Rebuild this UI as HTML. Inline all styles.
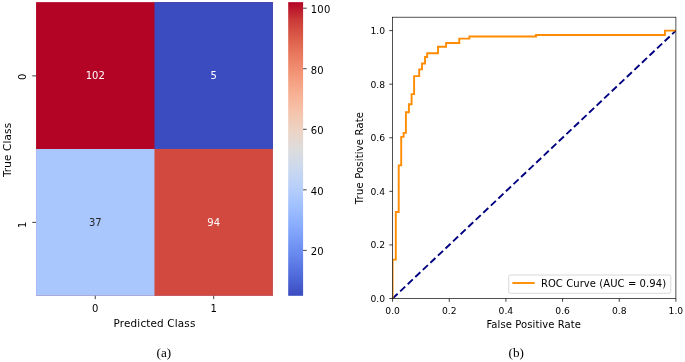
<!DOCTYPE html>
<html lang="en"><head><meta charset="utf-8"><title>Confusion matrix and ROC curve</title>
<style>html,body{margin:0;padding:0;background:#fff}svg{display:block;will-change:transform}text{font-family:"DejaVu Sans","Liberation Sans",sans-serif;font-size:10px;fill:#000}.cap{font-family:"Liberation Serif","DejaVu Serif",serif;font-size:13.2px}.t{font-size:9.2px}.l{font-size:10.4px}.w{fill:#fff}.d{fill:#262626}</style></head><body>
<svg width="685" height="362" viewBox="0 0 685 362">
<defs><linearGradient id="cw" x1="0" y1="0" x2="0" y2="1"><stop offset="0.0%" stop-color="#b40426"/><stop offset="6.2%" stop-color="#ca3b37"/><stop offset="12.5%" stop-color="#dd5f4b"/><stop offset="18.8%" stop-color="#eb7d62"/><stop offset="25.0%" stop-color="#f4987a"/><stop offset="31.2%" stop-color="#f7b093"/><stop offset="37.5%" stop-color="#f5c4ac"/><stop offset="43.8%" stop-color="#ecd3c5"/><stop offset="50.0%" stop-color="#dddcdc"/><stop offset="56.2%" stop-color="#ccd9ed"/><stop offset="62.5%" stop-color="#b9d0f9"/><stop offset="68.8%" stop-color="#a3c2fe"/><stop offset="75.0%" stop-color="#8db0fe"/><stop offset="81.2%" stop-color="#779af7"/><stop offset="87.5%" stop-color="#6282ea"/><stop offset="93.8%" stop-color="#4e68d8"/><stop offset="100.0%" stop-color="#3b4cc0"/></linearGradient><clipPath id="axclip"><rect x="392.60" y="17.20" width="283.30" height="281.30"/></clipPath></defs>
<rect width="685" height="362" fill="#fff"/>
<g shape-rendering="auto">
<rect x="36.05" y="2.15" width="236.85" height="293.65" fill="#b40426"/>
<rect x="154.47" y="2.15" width="118.42" height="293.65" fill="#3b4cc0"/>
<rect x="36.05" y="148.97" width="236.85" height="146.83" fill="#a9c6fd"/>
<rect x="154.47" y="148.97" width="118.42" height="146.83" fill="#d1493f"/>
<rect x="288.20" y="2.15" width="14.90" height="293.65" fill="url(#cw)"/>
</g>
<text class="w" x="95.3" y="79.0" text-anchor="middle">102</text>
<text class="w" x="213.7" y="79.0" text-anchor="middle">5</text>
<text class="d" x="95.3" y="225.8" text-anchor="middle">37</text>
<text class="w" x="213.7" y="225.8" text-anchor="middle">94</text>
<g stroke="#000" stroke-width="0.75">
<line x1="95.26" y1="295.80" x2="95.26" y2="299.10"/>
<line x1="213.69" y1="295.80" x2="213.69" y2="299.10"/>
<line x1="32.25" y1="75.86" x2="36.05" y2="75.86"/>
<line x1="32.25" y1="222.39" x2="36.05" y2="222.39"/>
<line x1="303.10" y1="8.20" x2="306.70" y2="8.20"/>
<line x1="303.10" y1="68.75" x2="306.70" y2="68.75"/>
<line x1="303.10" y1="129.30" x2="306.70" y2="129.30"/>
<line x1="303.10" y1="189.84" x2="306.70" y2="189.84"/>
<line x1="303.10" y1="250.39" x2="306.70" y2="250.39"/>
</g>
<text x="310.7" y="13.0" letter-spacing="0.25">100</text>
<text x="310.7" y="73.6" letter-spacing="0.25">80</text>
<text x="310.7" y="134.1" letter-spacing="0.25">60</text>
<text x="310.7" y="194.6" letter-spacing="0.25">40</text>
<text x="310.7" y="255.2" letter-spacing="0.25">20</text>
<text x="95.3" y="312" text-anchor="middle">0</text>
<text x="213.7" y="312" text-anchor="middle">1</text>
<text transform="translate(25.7,76.8) rotate(-90)" text-anchor="middle">0</text>
<text transform="translate(26.4,224.7) rotate(-90)" text-anchor="middle">1</text>
<text class="l" x="113.6" y="327.25" textLength="81.7" lengthAdjust="spacing">Predicted Class</text>
<text class="l" transform="translate(11.1,177.1) rotate(-90)" textLength="54.2" lengthAdjust="spacing">True Class</text>
<text class="cap" x="163.9" y="356.7" text-anchor="middle">(a)</text>
<g clip-path="url(#axclip)">
<line x1="392.6" y1="298.5" x2="675.9" y2="30.6" stroke="#000080" stroke-width="1.9" stroke-dasharray="6.96 3.44" fill="none"/>
<polyline points="392.6,298.5 392.6,259.6 395.8,259.6 395.8,212.0 398.7,212.0 398.7,165.4 401.2,165.4 401.2,136.9 403.6,136.9 403.6,132.9 405.9,132.9 405.9,112.2 408.9,112.2 408.9,104.2 411.6,104.2 411.6,94.1 414.1,94.1 414.1,76.1 419.2,76.1 419.2,69.4 422.0,69.4 422.0,63.5 425.0,63.5 425.0,57.0 427.2,57.0 427.2,53.3 438.0,53.3 438.0,46.8 446.1,46.8 446.1,43.0 459.3,43.0 459.3,38.6 469.4,38.6 469.4,36.5 536.0,36.5 536.0,35.0 664.9,35.0 664.9,30.6 675.9,30.6" fill="none" stroke="#ff8c00" stroke-width="1.9" stroke-linejoin="miter" stroke-linecap="square"/>
</g>
<rect x="508.7" y="275" width="162.1" height="18.3" rx="1.8" ry="1.8" fill="#fff" fill-opacity="0.8" stroke="#ccc" stroke-width="0.75"/>
<line x1="512.4" y1="283" x2="534.7" y2="283" stroke="#ff8c00" stroke-width="1.9"/>
<text x="540.9" y="287.1" textLength="125.2" lengthAdjust="spacing">ROC Curve (AUC = 0.94)</text>
<rect x="392.60" y="17.20" width="283.30" height="281.30" fill="none" stroke="#000" stroke-width="0.68"/>
<g stroke="#000" stroke-width="0.75">
<line x1="392.60" y1="298.50" x2="392.60" y2="301.80"/>
<line x1="389.30" y1="298.50" x2="392.60" y2="298.50"/>
<line x1="449.26" y1="298.50" x2="449.26" y2="301.80"/>
<line x1="389.30" y1="244.92" x2="392.60" y2="244.92"/>
<line x1="505.92" y1="298.50" x2="505.92" y2="301.80"/>
<line x1="389.30" y1="191.34" x2="392.60" y2="191.34"/>
<line x1="562.58" y1="298.50" x2="562.58" y2="301.80"/>
<line x1="389.30" y1="137.76" x2="392.60" y2="137.76"/>
<line x1="619.24" y1="298.50" x2="619.24" y2="301.80"/>
<line x1="389.30" y1="84.18" x2="392.60" y2="84.18"/>
<line x1="675.90" y1="298.50" x2="675.90" y2="301.80"/>
<line x1="389.30" y1="30.60" x2="392.60" y2="30.60"/>
</g>
<text class="t" x="392.6" y="313.55" text-anchor="middle">0.0</text>
<text class="t" x="385.0" y="301.9" text-anchor="end">0.0</text>
<text class="t" x="449.3" y="313.55" text-anchor="middle">0.2</text>
<text class="t" x="385.0" y="248.4" text-anchor="end">0.2</text>
<text class="t" x="505.9" y="313.55" text-anchor="middle">0.4</text>
<text class="t" x="385.0" y="194.8" text-anchor="end">0.4</text>
<text class="t" x="562.6" y="313.55" text-anchor="middle">0.6</text>
<text class="t" x="385.0" y="141.2" text-anchor="end">0.6</text>
<text class="t" x="619.2" y="313.55" text-anchor="middle">0.8</text>
<text class="t" x="385.0" y="87.6" text-anchor="end">0.8</text>
<text class="t" x="675.9" y="313.55" text-anchor="middle">1.0</text>
<text class="t" x="385.0" y="34.1" text-anchor="end">1.0</text>
<text x="486.4" y="327.9" textLength="94.6" lengthAdjust="spacing">False Positive Rate</text>
<text transform="translate(362.7,204.2) rotate(-90)" textLength="92.2" lengthAdjust="spacing">True Positive Rate</text>
<text class="cap" x="516.2" y="356.9" text-anchor="middle">(b)</text>
</svg></body></html>
